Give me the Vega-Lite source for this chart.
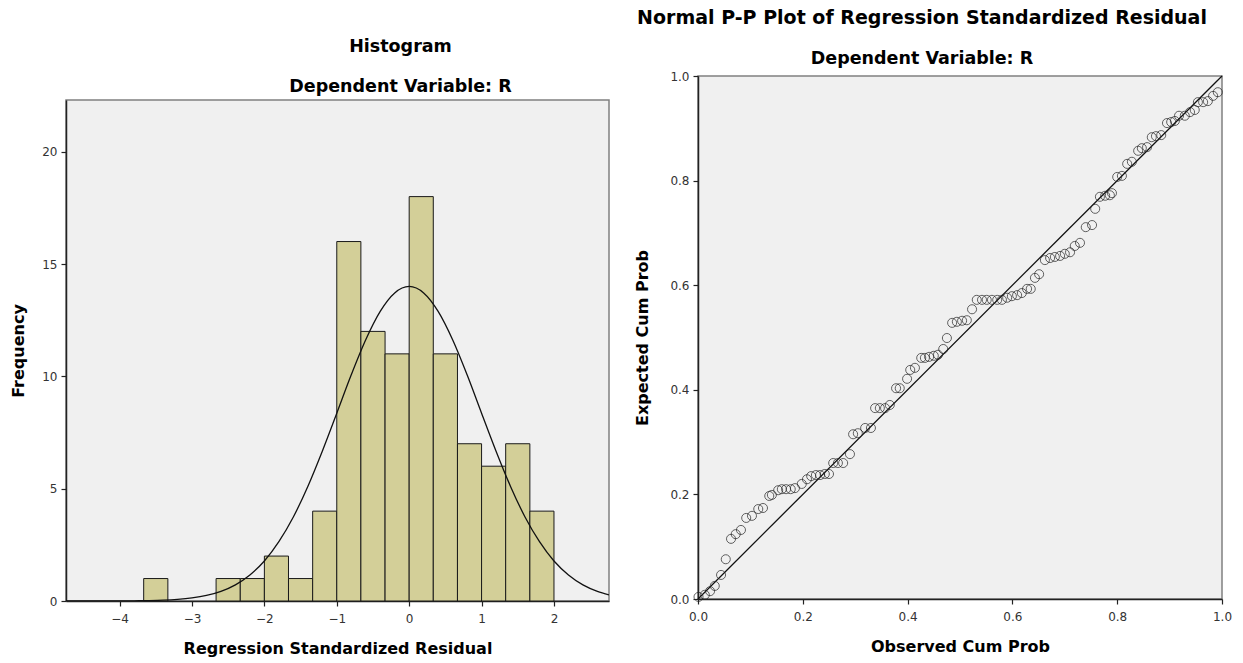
{
  "$schema": "https://vega.github.io/schema/vega-lite/v6.json",
  "background": "white",
  "padding": {"left": 9, "top": 6, "right": 5, "bottom": 5},
  "spacing": 24,
  "config": {
    "font": "DejaVu Sans",
    "view": {"fill": "#F0F0F0", "stroke": "#808080", "strokeWidth": 1.5},
    "axis": {"domainColor": "#222222", "domainWidth": 1.5, "tickColor": "#222222", "tickSize": 5, "tickWidth": 1.2, "labelFont": "DejaVu Sans", "labelFontSize": 12, "labelColor": "#333333", "labelPadding": 4, "labelFlush": false, "titleFont": "DejaVu Sans", "titleFontSize": 16, "titleFontWeight": "bold", "titleColor": "#000000", "grid": false},
    "axisX": {"labelPadding": 7, "titlePadding": 16},
    "title": {"font": "DejaVu Sans", "fontSize": 17.5, "fontWeight": "bold", "color": "#000000", "subtitleFont": "DejaVu Sans", "subtitleFontSize": 17.5, "subtitleFontWeight": "bold", "subtitleColor": "#000000", "anchor": "middle", "subtitlePadding": 22, "offset": 5}
  },
  "datasets": {
    "none": [],
    "bins": [
      {"lo": -3.667, "hi": -3.333, "freq": 1},
      {"lo": -2.667, "hi": -2.333, "freq": 1},
      {"lo": -2.333, "hi": -2.0, "freq": 1},
      {"lo": -2.0, "hi": -1.667, "freq": 2},
      {"lo": -1.667, "hi": -1.333, "freq": 1},
      {"lo": -1.333, "hi": -1.0, "freq": 4},
      {"lo": -1.0, "hi": -0.667, "freq": 16},
      {"lo": -0.667, "hi": -0.333, "freq": 12},
      {"lo": -0.333, "hi": 0.0, "freq": 11},
      {"lo": 0.0, "hi": 0.333, "freq": 18},
      {"lo": 0.333, "hi": 0.667, "freq": 11},
      {"lo": 0.667, "hi": 1.0, "freq": 7},
      {"lo": 1.0, "hi": 1.333, "freq": 6},
      {"lo": 1.333, "hi": 1.667, "freq": 7},
      {"lo": 1.667, "hi": 2.0, "freq": 4}
    ],
    "curve": [
      {"z": -4.74, "density": 0.0001},
      {"z": -4.4, "density": 0.0007},
      {"z": -4.0, "density": 0.004},
      {"z": -3.8, "density": 0.008},
      {"z": -3.6, "density": 0.018},
      {"z": -3.4, "density": 0.036},
      {"z": -3.2, "density": 0.072},
      {"z": -3.0, "density": 0.136},
      {"z": -2.8, "density": 0.246},
      {"z": -2.6, "density": 0.43},
      {"z": -2.4, "density": 0.72},
      {"z": -2.2, "density": 1.16},
      {"z": -2.0, "density": 1.78},
      {"z": -1.8, "density": 2.64},
      {"z": -1.6, "density": 3.74},
      {"z": -1.4, "density": 5.1},
      {"z": -1.2, "density": 6.67},
      {"z": -1.0, "density": 8.36},
      {"z": -0.8, "density": 10.07},
      {"z": -0.6, "density": 11.63},
      {"z": -0.4, "density": 12.89},
      {"z": -0.2, "density": 13.71},
      {"z": 0.0, "density": 14.0},
      {"z": 0.2, "density": 13.71},
      {"z": 0.4, "density": 12.89},
      {"z": 0.6, "density": 11.63},
      {"z": 0.8, "density": 10.07},
      {"z": 1.0, "density": 8.36},
      {"z": 1.2, "density": 6.67},
      {"z": 1.4, "density": 5.1},
      {"z": 1.6, "density": 3.74},
      {"z": 1.8, "density": 2.64},
      {"z": 2.0, "density": 1.78},
      {"z": 2.2, "density": 1.16},
      {"z": 2.4, "density": 0.72},
      {"z": 2.6, "density": 0.43},
      {"z": 2.76, "density": 0.276}
    ],
    "diag": [
      {"obs": 0, "exp": 0},
      {"obs": 1, "exp": 1}
    ],
    "pp": [
      {"obs": 0.001, "exp": 0.004}, {"obs": 0.013, "exp": 0.008}, {"obs": 0.023, "exp": 0.015}, {"obs": 0.032, "exp": 0.025},
      {"obs": 0.044, "exp": 0.046}, {"obs": 0.053, "exp": 0.076}, {"obs": 0.063, "exp": 0.115}, {"obs": 0.072, "exp": 0.124},
      {"obs": 0.082, "exp": 0.132}, {"obs": 0.092, "exp": 0.155}, {"obs": 0.103, "exp": 0.159}, {"obs": 0.115, "exp": 0.172},
      {"obs": 0.124, "exp": 0.174}, {"obs": 0.136, "exp": 0.197}, {"obs": 0.141, "exp": 0.199}, {"obs": 0.153, "exp": 0.208},
      {"obs": 0.160, "exp": 0.210}, {"obs": 0.168, "exp": 0.210}, {"obs": 0.177, "exp": 0.210}, {"obs": 0.185, "exp": 0.212},
      {"obs": 0.198, "exp": 0.220}, {"obs": 0.208, "exp": 0.229}, {"obs": 0.216, "exp": 0.235}, {"obs": 0.225, "exp": 0.237},
      {"obs": 0.233, "exp": 0.237}, {"obs": 0.242, "exp": 0.239}, {"obs": 0.250, "exp": 0.239},
      {"obs": 0.258, "exp": 0.260}, {"obs": 0.267, "exp": 0.260}, {"obs": 0.277, "exp": 0.260}, {"obs": 0.290, "exp": 0.277},
      {"obs": 0.296, "exp": 0.315}, {"obs": 0.305, "exp": 0.317}, {"obs": 0.319, "exp": 0.327}, {"obs": 0.330, "exp": 0.327},
      {"obs": 0.338, "exp": 0.365}, {"obs": 0.347, "exp": 0.365}, {"obs": 0.357, "exp": 0.365}, {"obs": 0.366, "exp": 0.371},
      {"obs": 0.378, "exp": 0.403}, {"obs": 0.385, "exp": 0.403}, {"obs": 0.399, "exp": 0.421}, {"obs": 0.405, "exp": 0.438},
      {"obs": 0.414, "exp": 0.442}, {"obs": 0.426, "exp": 0.461}, {"obs": 0.433, "exp": 0.461}, {"obs": 0.441, "exp": 0.463},
      {"obs": 0.450, "exp": 0.465}, {"obs": 0.458, "exp": 0.467}, {"obs": 0.468, "exp": 0.478},
      {"obs": 0.475, "exp": 0.499}, {"obs": 0.485, "exp": 0.528}, {"obs": 0.494, "exp": 0.530}, {"obs": 0.504, "exp": 0.532},
      {"obs": 0.513, "exp": 0.533}, {"obs": 0.523, "exp": 0.554}, {"obs": 0.532, "exp": 0.572}, {"obs": 0.542, "exp": 0.572},
      {"obs": 0.551, "exp": 0.572}, {"obs": 0.561, "exp": 0.572}, {"obs": 0.571, "exp": 0.572}, {"obs": 0.580, "exp": 0.572},
      {"obs": 0.590, "exp": 0.576}, {"obs": 0.599, "exp": 0.579}, {"obs": 0.609, "exp": 0.581}, {"obs": 0.618, "exp": 0.585},
      {"obs": 0.628, "exp": 0.593}, {"obs": 0.635, "exp": 0.593}, {"obs": 0.643, "exp": 0.614}, {"obs": 0.651, "exp": 0.621},
      {"obs": 0.662, "exp": 0.648}, {"obs": 0.672, "exp": 0.652}, {"obs": 0.681, "exp": 0.654}, {"obs": 0.691, "exp": 0.656},
      {"obs": 0.700, "exp": 0.660}, {"obs": 0.710, "exp": 0.663}, {"obs": 0.719, "exp": 0.675}, {"obs": 0.729, "exp": 0.681},
      {"obs": 0.740, "exp": 0.711}, {"obs": 0.752, "exp": 0.715},
      {"obs": 0.758, "exp": 0.746}, {"obs": 0.767, "exp": 0.769}, {"obs": 0.777, "exp": 0.771}, {"obs": 0.786, "exp": 0.772},
      {"obs": 0.790, "exp": 0.776}, {"obs": 0.800, "exp": 0.807}, {"obs": 0.809, "exp": 0.809}, {"obs": 0.819, "exp": 0.832},
      {"obs": 0.828, "exp": 0.836}, {"obs": 0.840, "exp": 0.857}, {"obs": 0.847, "exp": 0.862}, {"obs": 0.857, "exp": 0.864},
      {"obs": 0.866, "exp": 0.883}, {"obs": 0.874, "exp": 0.885}, {"obs": 0.884, "exp": 0.887}, {"obs": 0.895, "exp": 0.910},
      {"obs": 0.903, "exp": 0.912}, {"obs": 0.910, "exp": 0.914}, {"obs": 0.918, "exp": 0.924}, {"obs": 0.929, "exp": 0.924},
      {"obs": 0.939, "exp": 0.931}, {"obs": 0.948, "exp": 0.935}, {"obs": 0.954, "exp": 0.950}, {"obs": 0.964, "exp": 0.950},
      {"obs": 0.973, "exp": 0.952}, {"obs": 0.983, "exp": 0.962}, {"obs": 0.992, "exp": 0.969}
    ]
  },
  "hconcat": [
    {
      "spacing": 0,
      "vconcat": [
        {
          "width": 543,
          "height": 31,
          "data": {"name": "none"},
          "mark": {"type": "point"},
          "view": {"fill": null, "stroke": null}
        },
        {
          "width": 543,
          "height": 501,
          "title": {"text": "Histogram", "subtitle": "Dependent Variable: R", "dx": 63},
          "layer": [
            {
              "data": {"name": "bins"},
              "mark": {"type": "rect", "fill": "#D3CF98", "stroke": "#1a1a1a", "strokeWidth": 1},
              "encoding": {
                "x": {"field": "lo", "type": "quantitative", "scale": {"domain": [-4.74, 2.76], "nice": false, "zero": false},
                      "axis": {"values": [-4, -3, -2, -1, 0, 1, 2], "format": "d", "title": "Regression Standardized Residual"}},
                "x2": {"field": "hi"},
                "y": {"field": "freq", "type": "quantitative", "scale": {"domain": [0, 22.3], "nice": false},
                      "axis": {"values": [0, 5, 10, 15, 20], "title": "Frequency", "titlePadding": 15}},
                "y2": {"datum": 0}
              }
            },
            {
              "data": {"name": "curve"},
              "mark": {"type": "line", "color": "#111111", "strokeWidth": 1.3, "interpolate": "monotone", "clip": true},
              "encoding": {
                "x": {"field": "z", "type": "quantitative"},
                "y": {"field": "density", "type": "quantitative"}
              }
            }
          ]
        }
      ]
    },
    {
      "spacing": 0,
      "vconcat": [
        {
          "width": 524,
          "height": 1,
          "data": {"name": "none"},
          "mark": {"type": "point"},
          "view": {"fill": null, "stroke": null}
        },
        {
          "width": 524,
          "height": 523,
          "title": {"text": "Normal P-P Plot of Regression Standardized Residual", "subtitle": "Dependent Variable: R", "dx": -38, "fontSize": 19, "offset": 3},
          "layer": [
            {
              "data": {"name": "diag"},
              "mark": {"type": "line", "color": "#111111", "strokeWidth": 1.3},
              "encoding": {
                "x": {"field": "obs", "type": "quantitative", "scale": {"domain": [0, 1], "nice": false},
                      "axis": {"values": [0, 0.2, 0.4, 0.6, 0.8, 1], "format": ".1f", "title": "Observed Cum Prob"}},
                "y": {"field": "exp", "type": "quantitative", "scale": {"domain": [0, 1], "nice": false},
                      "axis": {"values": [0, 0.2, 0.4, 0.6, 0.8, 1], "format": ".1f", "title": "Expected Cum Prob", "titlePadding": 19}}
              }
            },
            {
              "data": {"name": "pp"},
              "mark": {"type": "point", "shape": "circle", "filled": false, "stroke": "#222222", "strokeWidth": 1, "size": 82},
              "encoding": {
                "x": {"field": "obs", "type": "quantitative"},
                "y": {"field": "exp", "type": "quantitative"}
              }
            }
          ]
        }
      ]
    }
  ]
}
